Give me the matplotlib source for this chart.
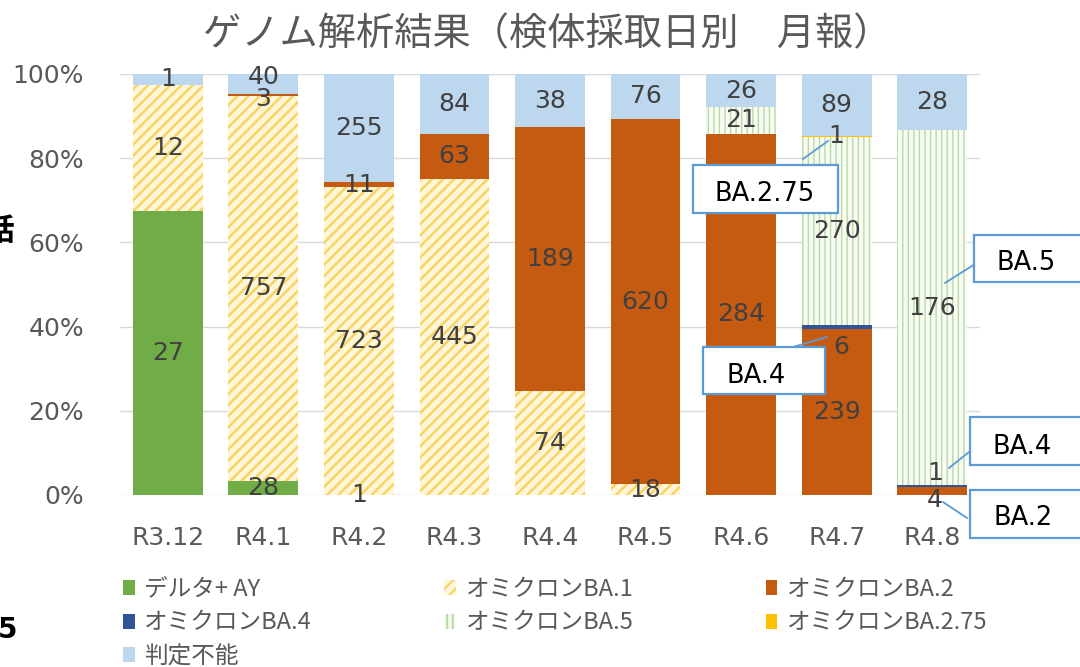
import matplotlib
matplotlib.use('Agg')
import matplotlib.pyplot as plt
import numpy as np
from matplotlib.patches import Rectangle, Patch
from matplotlib.lines import Line2D
from matplotlib.ticker import PercentFormatter, MultipleLocator

plt.rcParams['font.family'] = ['Noto Sans CJK JP', 'DejaVu Sans']
plt.rcParams['hatch.linewidth'] = 1.5

# ---------------- data ----------------
categories = ['R3.12', 'R4.1', 'R4.2', 'R4.3', 'R4.4', 'R4.5', 'R4.6', 'R4.7', 'R4.8']
delta_ay = [27, 28, 1, 0, 0, 0, 0, 0, 0]
ba1 = [12, 757, 723, 445, 74, 18, 0, 0, 0]
ba2 = [0, 3, 11, 63, 189, 620, 284, 239, 4]
ba4 = [0, 0, 0, 0, 0, 0, 0, 6, 1]
ba5 = [0, 0, 0, 0, 0, 0, 21, 270, 176]
ba275 = [0, 0, 0, 0, 0, 0, 0, 1, 0]
undetermined = [1, 40, 255, 84, 38, 76, 26, 89, 28]
series_names = ['デルタ+ AY', 'オミクロンBA.1', 'オミクロンBA.2', 'オミクロンBA.4',
                'オミクロンBA.5', 'オミクロンBA.2.75', '判定不能']
title = 'ゲノム解析結果（検体採取日別　月報）'
callout_texts = ['BA.2.75', 'BA.4', 'BA.5', 'BA.4', 'BA.2']

series = [delta_ay, ba1, ba2, ba4, ba5, ba275, undetermined]

# ---------------- styles ----------------
styles = [
    dict(face='#70AD47', edge='none', hatch=None),
    dict(face='#FFF6DA', edge='#F7D462', hatch='///'),
    dict(face='#C55A11', edge='none', hatch=None),
    dict(face='#2F5597', edge='none', hatch=None),
    dict(face='#F7FBF4', edge='#B9DBA3', hatch='|||'),
    dict(face='#FFC000', edge='none', hatch=None),
    dict(face='#BDD7EE', edge='none', hatch=None),
]
hatch_lw = [None, 1.8, None, None, 1.0, None, None]

W, H = 1080, 667
def fx(px):
    return px / W
def fy(py):
    return 1 - py / H

fig = plt.figure(figsize=(W / 100, H / 100), dpi=100)
ax = fig.add_axes([fx(120), fy(495), 860 / W, 421 / H])

x = np.arange(len(categories))
totals = np.sum(np.array(series, dtype=float), axis=0)
bottom = np.zeros(len(categories))
bottoms = []
handles = []
for j, (vals, name, st) in enumerate(zip(series, series_names, styles)):
    frac = np.array(vals, dtype=float) / totals
    bars = ax.bar(x, frac, bottom=bottom, width=0.73, facecolor=st['face'],
                  edgecolor=st['edge'], hatch=st['hatch'], linewidth=0, zorder=2)
    if hatch_lw[j] is not None:
        for b in bars:
            try:
                b.set_hatch_linewidth(hatch_lw[j])
            except AttributeError:
                pass
    bottoms.append(bottom.copy())
    hp = Patch(facecolor=st['face'], edgecolor=st['edge'], hatch=st['hatch'], linewidth=0)
    if hatch_lw[j] is not None:
        try:
            hp.set_hatch_linewidth(hatch_lw[j])
        except AttributeError:
            pass
    handles.append(hp)
    bottom = bottom + frac

# data labels
label_offsets = {(3, 7): (3.6, -14.5), (3, 8): (2.0, 9.5), (2, 8): (2.0, -6.5),
                 (6, 1): (0, 5.5), (2, 1): (0, -2.5)}
for j, vals in enumerate(series):
    for i, v in enumerate(vals):
        if v == 0:
            continue
        frac = v / totals[i]
        yc = bottoms[j][i] + frac / 2
        dx, dy = label_offsets.get((j, i), (0, 0))
        ax.annotate(str(v), (x[i], yc), xytext=(dx, dy), textcoords='offset points',
                    ha='center', va='center', fontsize=18, color='#404040',
                    family='DejaVu Sans', zorder=5)

ax.set_xlim(-0.5, len(categories) - 0.5)
ax.set_ylim(0, 1)
ax.yaxis.set_major_locator(MultipleLocator(0.2))
ax.yaxis.set_major_formatter(PercentFormatter(1.0, decimals=0))
ax.set_xticks(x)
ax.set_xticklabels(categories)
for lab in ax.get_xticklabels() + ax.get_yticklabels():
    lab.set_family('DejaVu Sans')
ax.tick_params(axis='both', length=0, labelsize=18, colors='#595959')
ax.tick_params(axis='y', pad=26)
ax.tick_params(axis='x', pad=22)
ax.grid(axis='y', color='#D9D9D9', linewidth=1.0, zorder=0)
ax.set_axisbelow(True)
for s in ax.spines.values():
    s.set_visible(False)

# title
fig.text(fx(547), fy(35), title, ha='center', va='center', fontsize=27.5, color='#595959')

# legend (row-major order as in reference)
order = [0, 3, 6, 1, 4, 2, 5]
leg = fig.legend([handles[k] for k in order], [series_names[k] for k in order],
                 loc='upper left', bbox_to_anchor=(fx(123), fy(578)), ncol=3,
                 frameon=False, fontsize=17, handlelength=0.5, handleheight=0.6,
                 handletextpad=0.4, columnspacing=5.6, labelspacing=0.45,
                 borderaxespad=0, borderpad=0, labelcolor='#595959')

# callout boxes
boxes = [(693, 165, 838, 213), (703, 347, 825, 394), (974, 235, 1095, 282),
         (970, 417, 1095, 465), (970, 490, 1095, 538)]
text_centers = [(765, 194), (756, 376), (1026, 263), (1022, 447), (1023, 518)]
leaders = [((803, 159), (828, 141)), ((793, 347), (827, 337)), ((945, 283), (975, 264)),
           ((949, 468), (969, 452)), ((943, 502), (967, 518))]
for (x0, y0, x1, y1), (tx, ty), ((lx0, ly0), (lx1, ly1)), t in zip(boxes, text_centers, leaders, callout_texts):
    fig.add_artist(Line2D([fx(lx0), fx(lx1)], [fy(ly0), fy(ly1)], transform=fig.transFigure,
                          color='#5B9BD5', linewidth=1.3, zorder=6))
    fig.add_artist(Rectangle((fx(x0), fy(y1)), fx(x1) - fx(x0), fy(y0) - fy(y1),
                             transform=fig.transFigure, facecolor='white',
                             edgecolor='#5B9BD5', linewidth=1.6, zorder=7))
    fig.text(fx(tx), fy(ty), t, ha='center', va='center', fontsize=18.5, color='#000000',
             family='DejaVu Sans', zorder=8)

# cropped slide fragments at the left edge
fig.text(fx(14), fy(231), '話', ha='right', va='center', fontsize=22, fontweight='bold', color='black')
fig.text(fx(8), fy(630), '5', ha='center', va='center', fontsize=20, fontweight='bold',
         color='black', family='DejaVu Sans')

fig.savefig('out.png', dpi=100)
